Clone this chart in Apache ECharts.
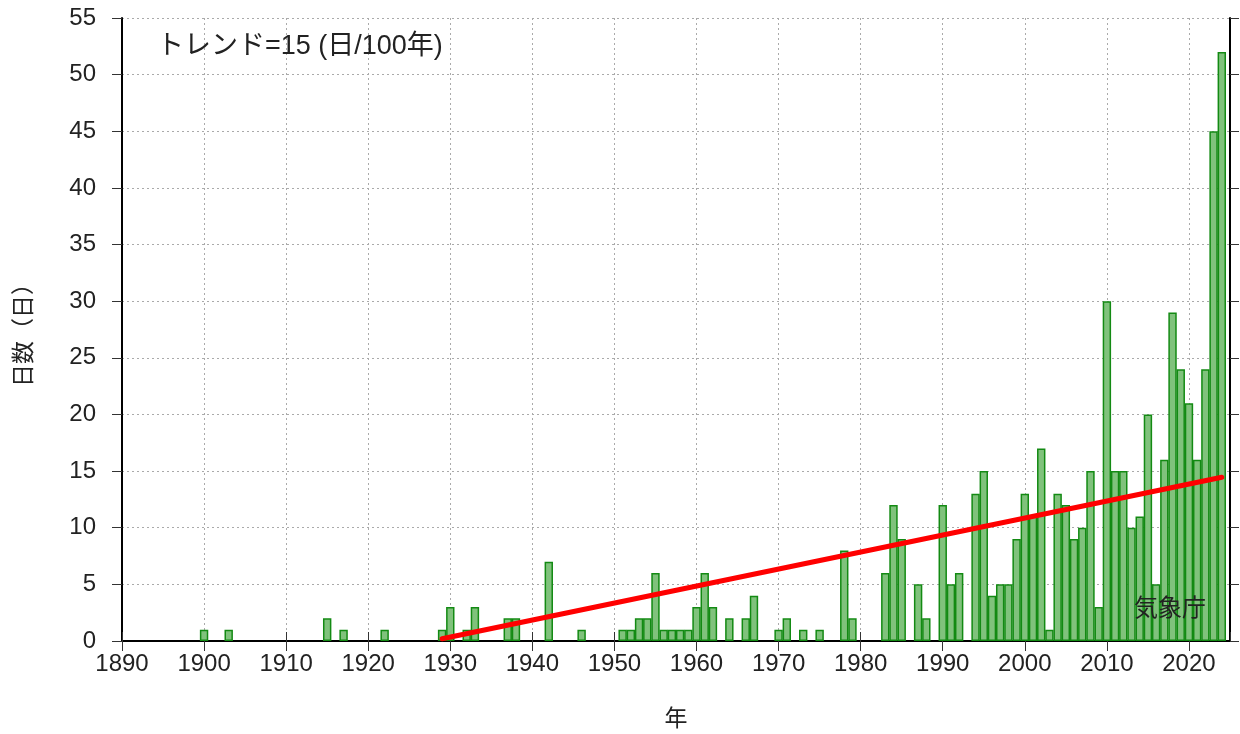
<!DOCTYPE html>
<html>
<head>
<meta charset="utf-8">
<script src="https://cdn.jsdelivr.net/npm/echarts@6/dist/echarts.min.js"></script>
<style>html,body{margin:0;padding:0;background:#fff}#c{width:1240px;height:734px}</style>
</head>
<body>
<div id="c"></div>
<script>
// Years with non-zero counts and their day counts
const years = [1900,1903,1915,1917,1922,1929,1930,1932,1933,1937,1938,1942,1946,
  1951,1952,1953,1954,1955,1956,1957,1958,1959,1960,1961,1962,1964,1966,1967,
  1970,1971,1973,1975,1978,1979,1983,1984,1985,1987,1988,1990,1991,1992,1994,
  1995,1996,1997,1998,1999,2000,2001,2002,2003,2004,2005,2006,2007,2008,2009,
  2010,2011,2012,2013,2014,2015,2016,2017,2018,2019,2020,2021,2022,2023,2024];
const days = [1,1,2,1,1,1,3,1,3,2,2,7,1,
  1,1,2,2,6,1,1,1,1,3,6,3,2,2,4,
  1,2,1,1,8,2,6,12,9,5,2,12,5,6,13,
  15,4,5,5,9,13,11,17,1,13,12,9,10,15,3,
  30,15,15,10,11,20,5,16,29,24,21,16,24,45,52];
const trendYears = [1929, 2024];
const trendValues = [0.2, 14.45];
const xTicks = [1890,1900,1910,1920,1930,1940,1950,1960,1970,1980,1990,2000,2010,2020];
const yTicks = [0,5,10,15,20,25,30,35,40,45,50,55];

const barData = years.map((y, i) => [y, days[i]]);
const trendData = trendYears.map((y, i) => [y, trendValues[i]]);

const labelFont = 'Liberation Sans, Arial, sans-serif';
const cjkFont = 'Noto Sans CJK JP, sans-serif';
const mixFont = '"Liberation Sans", "Noto Sans CJK JP", sans-serif';

const chart = echarts.init(document.getElementById('c'));
chart.setOption({
  animation: false,
  backgroundColor: '#fff',
  grid: {left: 122, top: 18, width: 1108, height: 623, containLabel: false},
  xAxis: [{
    type: 'value', min: 1890, max: 2025, interval: 10,
    name: '年', nameLocation: 'middle', nameGap: 65,
    nameTextStyle: {fontFamily: cjkFont, fontSize: 23, color: '#222'},
    axisLine: {show: true, onZero: false, lineStyle: {color: '#000', width: 2}},
    axisTick: {show: true, length: 10, lineStyle: {color: '#333', width: 1}},
    axisLabel: {show: true, margin: 11, fontFamily: labelFont, fontSize: 24, color: '#222', showMaxLabel: false,
      formatter: v => xTicks.includes(v) ? String(v) : ''},
    splitLine: {show: true, lineStyle: {color: '#aaa', type: [2, 3], width: 1}}
  }, {
    type: 'value', position: 'top', min: 1890, max: 2025, interval: 10,
    axisLine: {show: true, lineStyle: {color: '#000', width: 2}},
    axisTick: {show: true, length: 9, lineStyle: {color: '#333', width: 1}},
    axisLabel: {show: false}, splitLine: {show: false}
  }],
  yAxis: [{
    type: 'value', min: 0, max: 55, interval: 5,
    name: '日数（日）', nameLocation: 'middle', nameGap: 88, nameRotate: 90,
    nameTextStyle: {fontFamily: cjkFont, fontSize: 23, color: '#222'},
    axisLine: {show: true, lineStyle: {color: '#000', width: 2}},
    axisTick: {show: true, length: 10, lineStyle: {color: '#333', width: 1}},
    axisLabel: {show: true, margin: 26, fontFamily: labelFont, fontSize: 24, color: '#222',
      formatter: v => yTicks.includes(v) ? String(v) : ''},
    splitLine: {show: true, lineStyle: {color: '#aaa', type: [2, 3], width: 1}}
  }, {
    type: 'value', position: 'right', min: 0, max: 55, interval: 5,
    axisLine: {show: true, lineStyle: {color: '#000', width: 2}},
    axisTick: {show: true, length: 9, lineStyle: {color: '#333', width: 1}},
    axisLabel: {show: false}, splitLine: {show: false}
  }],
  series: [{
    type: 'bar', xAxisIndex: 0, yAxisIndex: 0,
    data: barData, barWidth: 8.4,
    itemStyle: {color: '#80c27c', borderColor: '#138a13', borderWidth: 1.5},
    z: 2
  }, {
    type: 'line', xAxisIndex: 0, yAxisIndex: 0,
    data: trendData, symbol: 'none',
    lineStyle: {color: '#ff0000', width: 5, cap: 'round'},
    z: 3
  }],
  graphic: [{
    type: 'text', left: 157, top: 33, z: 100,
    style: {text: 'トレンド=15 (日/100年)', font: '27px ' + mixFont, fill: '#222'}
  }, {
    type: 'text', left: 1134, top: 595, z: 100,
    style: {text: '気象庁', font: '24px ' + cjkFont, fill: '#222'}
  }]
});
</script>
</body>
</html>
